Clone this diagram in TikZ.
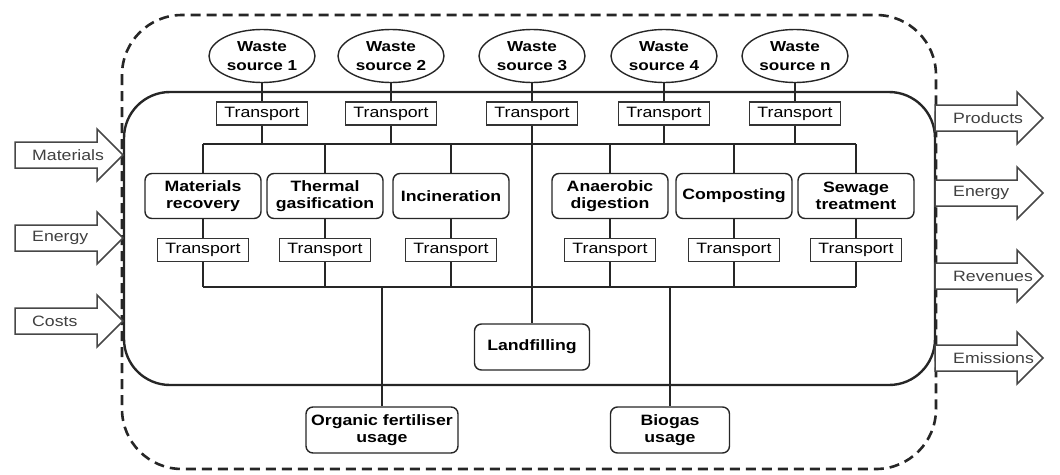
\documentclass[tikz,border=0pt]{standalone}
\usepackage{fontspec}
\setmainfont{Liberation Sans}[FakeStretch=1.18]
\usetikzlibrary{shapes.geometric}
\begin{document}
\begin{tikzpicture}[x=1pt,y=-1pt,
  every node/.style={font=\fontsize{15}{17.5}\selectfont, align=center, inner sep=0pt},
  src/.style={ellipse, draw=black!85, line width=1.4pt, fill=white, minimum width=106, minimum height=53, font=\fontsize{14.5}{18.5}\selectfont\bfseries},
  trans/.style={rectangle, draw=black!80, line width=1.3pt, fill=white, minimum width=91, minimum height=23},
  proc/.style={rectangle, rounded corners=7, draw=black!85, line width=1.4pt, fill=white, minimum width=116, minimum height=45, font=\fontsize{15}{17.5}\selectfont\bfseries},
  conn/.style={draw=black!85, line width=1.4pt},
  arrowline/.style={draw=black!72, line width=1.5pt, fill=white},
  flowlabel/.style={anchor=west, text=black!75},
  flowarrow/.pic={\draw[arrowline] (0,-13) -- (82,-13) -- (82,-26) -- (108,0) -- (82,26) -- (82,13) -- (0,13) -- cycle;}
]
\useasboundingbox (0,0) rectangle (1060,474);

% outer boundary (dashed) and inner system (solid)
\draw[draw=black!85, line width=2.6pt, dash pattern=on 10pt off 6pt, rounded corners=60] (122,15) rectangle (936,469);
\draw[draw=black!85, line width=2.4pt, rounded corners=46] (124,92) rectangle (935,385);

% in/out arrows
\pic at (15,155) {flowarrow};
\pic at (15,238) {flowarrow};
\pic at (15,321) {flowarrow};
\node[flowlabel] (inMat) at (32,155) {Materials};
\node[flowlabel] (inEn) at (32,238) {Energy};
\node[flowlabel] (inCost) at (32,321) {Costs};

\pic at (935,118) {flowarrow};
\pic at (935,193) {flowarrow};
\pic at (935,276) {flowarrow};
\pic at (935,358) {flowarrow};
\node[flowlabel] (outProd) at (953,118) {Products};
\node[flowlabel] (outEn) at (953,193) {Energy};
\node[flowlabel] (outRev) at (953,276) {Revenues};
\node[flowlabel] (outEm) at (953,358) {Emissions};

% waste sources
\node[src] (ws1) at (262,56) {Waste\\source 1};
\node[src] (ws2) at (391,56) {Waste\\source 2};
\node[src] (ws3) at (532,56) {Waste\\source 3};
\node[src] (ws4) at (664,56) {Waste\\source 4};
\node[src] (ws5) at (795,56) {Waste\\source n};

% top transports
\node[trans] (tt1) at (262,113.5) {Transport};
\node[trans] (tt2) at (391,113.5) {Transport};
\node[trans] (tt3) at (532,113.5) {Transport};
\node[trans] (tt4) at (664,113.5) {Transport};
\node[trans] (tt5) at (795,113.5) {Transport};

% buses
\coordinate (buA) at (203,144);
\coordinate (buB) at (856,144);
\coordinate (blA) at (203,287);
\coordinate (blB) at (856,287);

% processes
\node[proc] (p1) at (203,196) {Materials\\recovery};
\node[proc] (p2) at (325,196) {Thermal\\gasification};
\node[proc] (p3) at (451,196) {Incineration};
\node[proc] (p4) at (610,196) {Anaerobic\\digestion};
\node[proc] (p5) at (734,196) {Composting};
\node[proc] (p6) at (856,196) {Sewage\\treatment};

% lower transports
\node[trans] (bt1) at (203,250) {Transport};
\node[trans] (bt2) at (325,250) {Transport};
\node[trans] (bt3) at (451,250) {Transport};
\node[trans] (bt4) at (610,250) {Transport};
\node[trans] (bt5) at (734,250) {Transport};
\node[trans] (bt6) at (856,250) {Transport};

% final destinations
\node[proc, minimum width=115, minimum height=46] (land) at (532,347) {Landfilling};
\node[proc, minimum width=152, minimum height=46] (org) at (382,430) {Organic fertiliser\\usage};
\node[proc, minimum width=119, minimum height=46] (bio) at (670,430) {Biogas\\usage};

% connectors
\foreach \i in {1,...,5} \draw[conn] (ws\i) -- (tt\i);
\foreach \i in {1,2,4,5} \draw[conn] (tt\i) -- (tt\i |- buA);
\draw[conn] (tt3) -- (land);
\draw[conn] (buA) -- (buB);
\foreach \i in {1,...,6} {
  \draw[conn] (buA -| p\i) -- (p\i);
  \draw[conn] (p\i) -- (bt\i);
  \draw[conn] (bt\i) -- (bt\i |- blA);
}
\draw[conn] (blA) -- (blB);
\draw[conn] (org |- blA) -- (org);
\draw[conn] (bio |- blA) -- (bio);
\end{tikzpicture}
\end{document}
